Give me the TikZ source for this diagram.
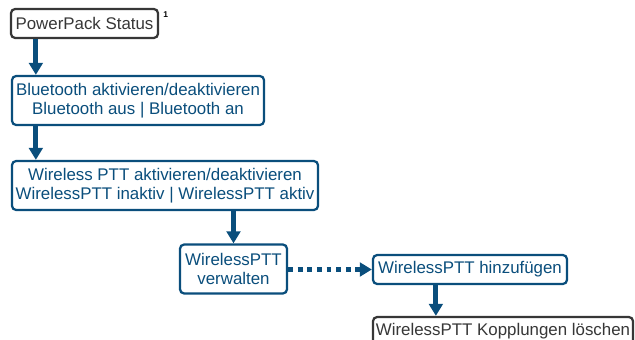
\documentclass[tikz,border=0pt]{standalone}
\usepackage{fontspec}
\setmainfont{Liberation Sans}
\usetikzlibrary{positioning,calc,arrows.meta}
\definecolor{MenuBlue}{RGB}{10,78,124}
\definecolor{MenuGray}{RGB}{55,55,55}
\tikzset{
  bbox/.style={draw=MenuBlue,text=MenuBlue,fill=white,rounded corners=3pt,
               line width=1.6pt,font=\fontsize{12}{13.6}\selectfont,
               align=center,inner sep=0pt},
  gbox/.style={draw=MenuGray,text=MenuGray,fill=white,rounded corners=3pt,
               line width=1.6pt,font=\fontsize{12}{13.6}\selectfont,
               align=center,inner sep=0pt},
  arr/.style={-{Triangle[length=0.3cm,width=0.34cm]},MenuBlue,line width=3.4pt},
  arrd/.style={-{Triangle[length=0.3cm,width=0.34cm]},MenuBlue,line width=3.4pt,
               dash pattern=on 0.12cm off 0.12cm},
}

\begin{document}
\begin{tikzpicture}[x=0.025cm,y=-0.025cm]
  \useasboundingbox (0,0) rectangle (635,340);
  \node[gbox, minimum width=3.675cm, minimum height=0.725cm] (status) at (84.5,23.5) {PowerPack Status};
  \node[font=\fontsize{6}{7}\selectfont\bfseries, anchor=south west,inner sep=0pt] (fn) at (163,18) {1};
  \node[bbox, minimum width=6.3cm, minimum height=1.225cm] (bt) at (138,100.5) {Bluetooth aktivieren/deaktivieren\\Bluetooth aus | Bluetooth an};
  \node[bbox, minimum width=7.65cm, minimum height=1.225cm] (wptt) at (165,185.5) {Wireless PTT aktivieren/deaktivieren\\WirelessPTT inaktiv | WirelessPTT aktiv};
  \node[bbox, minimum width=2.675cm, minimum height=1.225cm] (manage) at (233.5,269) {WirelessPTT\\verwalten};
  \node[bbox, minimum width=4.85cm, minimum height=0.725cm] (add) at (470,269.5) {WirelessPTT hinzufügen};
  \node[gbox, minimum width=6.5cm, minimum height=0.725cm] (delete) at (503,331.5) {WirelessPTT Kopplungen löschen};

  \draw[arr] ([xshift=0.65cm]status.south west) -- ([xshift=0.65cm]status.south west |- bt.north);
  \draw[arr] ([xshift=0.625cm]bt.south west) -- ([xshift=0.625cm]bt.south west |- wptt.north);
  \draw[arr] (manage.north |- wptt.south) -- (manage.north);
  \draw[arrd] (manage.east |- add.west) -- (add.west);
  \draw[arr] ([xshift=1.6cm]add.south west) -- ([xshift=1.6cm]add.south west |- delete.north);
\end{tikzpicture}
\end{document}
